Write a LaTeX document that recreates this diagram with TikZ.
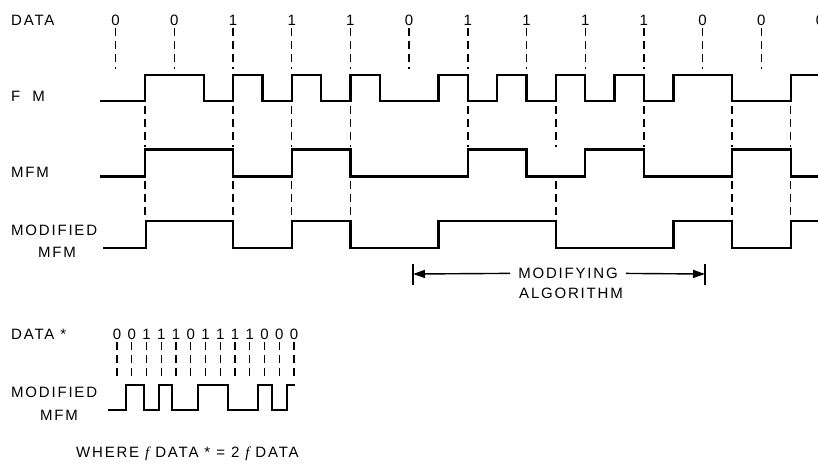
\documentclass[tikz,border=0pt]{standalone}
\usepackage{fontspec}
\newfontfamily\lblfont{Liberation Sans}[LetterSpace=12]
\newfontfamily\slfont{Liberation Serif}
\usetikzlibrary{arrows.meta}

\begin{document}
\begin{tikzpicture}[
  x=1pt, y=-1pt,
  lbl/.style={font=\lblfont\fontsize{15}{18}\selectfont, inner sep=0pt, anchor=base west},
  bit/.style={font=\lblfont\fontsize{15}{18}\selectfont, inner sep=3pt, anchor=base},
  wave/.style={line width=2.4pt, line join=miter},
  guide/.style={line width=1.4pt, dash pattern=on 8pt off 5pt},
  dimline/.style={line width=1.4pt, -{Triangle[length=12pt, width=8pt]}},
  dimbar/.style={line width=2pt},
]
\useasboundingbox (0,0) rectangle (818,466);

% Row labels
\node[lbl] (data) at (11,25.5) {DATA};
\node[lbl] (fm) at (11,101.5) {F~~M};
\node[lbl] (mfm) at (11,177) {MFM};
\node[lbl] (modl) at (11,235) {MODIFIED};
\node[lbl, anchor=base] (modl2) at (57,257) {MFM};

% Data bits, one per cell
\foreach \b [count=\i from 0] in {0,0,1,1,1,0,1,1,1,1,0,0,0}
  \node[bit] (d\i) at ({115.6+58.7*\i},25) {\b};
\coordinate (fmtop) at (0,69);
\foreach \i in {0,...,12}
  \draw[guide] (d\i.south) -- (d\i.south |- fmtop);

% FM
\draw[wave] (100,101) -| (145,75) -| (203.7,101) -| (233,75) -| (262.4,101)
  -| (291.7,75) -| (321.1,101) -| (350.4,75) -| (379.8,101) -| (438.5,75)
  -| (467.8,101) -| (497.2,75) -| (526.5,101) -| (555.9,75) -| (585.2,101)
  -| (614.6,75) -| (643.9,101) -| (673.3,75) -| (732,101) -| (790.7,75) -- (818,75);

% FM -> MFM
\foreach \x in {145,233,291.7,350.4,467.8,555.9,643.9,732,790.7}
  \draw[guide] (\x,106) -- (\x,147);

% MFM
\draw[wave] (100,176.5) -| (145,149.5) -| (233,176.5) -| (291.7,149.5)
  -| (350.4,176.5) -| (467.8,149.5) -| (526.5,176.5) -| (585.2,149.5)
  -| (643.9,176.5) -| (732,149.5) -| (790.7,176.5) -- (818,176.5);

% MFM -> modified MFM
\foreach \x in {145,233,291.7,350.4,555.9,732,790.7}
  \draw[guide] (\x,181) -- (\x,218);

% Modified MFM
\draw[wave] (103,248) -| (146,221) -| (233,248) -| (291.7,221) -| (350.4,248)
  -| (438.5,221) -| (555.9,248) -| (673.3,221) -| (732,248) -| (790.7,221) -- (818,221);

% Span of the modifying algorithm
\coordinate (lend) at (413,274);
\coordinate (rend) at (705,274);
\node[lbl, anchor=center, inner xsep=8pt, inner ysep=2pt] (modtop) at (568,273) {MODIFYING};
\node[lbl, anchor=base] (modbot) at (571,298.5) {ALGORITHM};
\draw[dimline] (modtop) -- (lend);
\draw[dimline] (modtop) -- (rend);
\draw[dimbar] ([yshift=10.5pt]lend) -- ([yshift=-10.5pt]lend);
\draw[dimbar] ([yshift=10.5pt]rend) -- ([yshift=-10.5pt]rend);

% Doubled data rate
\node[lbl] (sdata) at (11,339) {DATA *};
\foreach \b [count=\i from 0] in {0,0,1,1,1,0,1,1,1,1,0,0,0}
  \node[bit] (s\i) at ({117+14.75*\i},339) {\b};
\coordinate (smtop) at (0,380);
\foreach \i in {0,...,12}
  \draw[guide] (s\i.south) -- (s\i.south |- smtop);
\node[lbl] (smodl) at (11,397) {MODIFIED};
\node[lbl, anchor=base] (smodl2) at (59,420) {MFM};
\draw[wave] (108,410) -| (126,385) -| (144,410) -| (159,385) -| (172,410)
  -| (198,385) -| (228,410) -| (258,385) -| (272,410) -| (287,385) -- (295,385);

\node[lbl] (where) at (76,457) {WHERE {\slfont\itshape f} DATA * = 2 {\slfont\itshape f} DATA};
\end{tikzpicture}
\end{document}
